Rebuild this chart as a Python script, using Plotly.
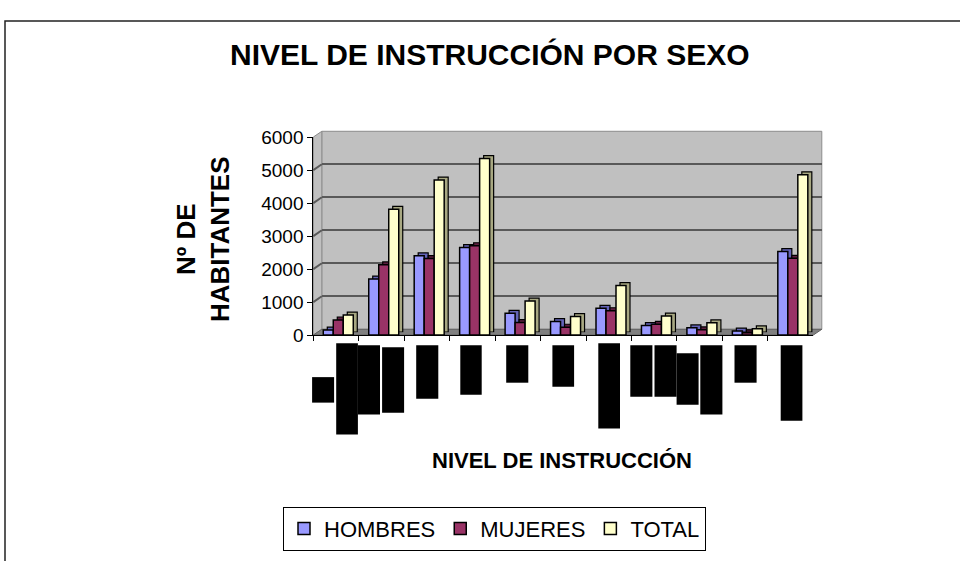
import plotly.graph_objects as go

# ---- data -------------------------------------------------------------
categorias = [
    "Sin nivel", "Educación inicial", "Primaria incompleta", "Primaria completa",
    "Secundaria incompleta", "Secundaria completa", "Sup. no univ. incompleta",
    "Sup. no univ. completa", "Sup. univ. incompleta", "Sup. univ. completa",
    "No especificado",
]
hombres = [150, 1700, 2400, 2650, 660, 410, 810, 290, 220, 120, 2530]
mujeres = [460, 2130, 2320, 2710, 380, 240, 740, 330, 160, 70, 2330]
total = [610, 3810, 4700, 5350, 1030, 560, 1500, 580, 370, 190, 4860]
y_ticks = [0, 1000, 2000, 3000, 4000, 5000, 6000]

# ---- geometry (pixels on a 960 x 561 page) ----------------------------
W, H = 960, 561
def px(x):
    return x / W
def py(y):
    return 1 - y / H

FX0, FX1 = 313.3, 813.3      # front x-axis span
FY0, FY1 = 337.7, 132.0      # front y for 0 and 6000
WALL_DX, WALL_DY = 8.5, -6.0  # depth of the chart box
BAR_DX, BAR_DY = 4.0, -3.0    # depth of each column

front_x = [px(FX0), px(FX1)]
front_y = [py(FY0), py(FY1)]
wall_x = [px(FX0 + WALL_DX), px(FX1 + WALL_DX)]
wall_y = [py(FY0 + WALL_DY), py(FY1 + WALL_DY)]
depth_x = [px(FX0 + BAR_DX), px(FX1 + BAR_DX)]
depth_y = [py(FY0 + BAR_DY), py(FY1 + BAR_DY)]

FONT = "Liberation Sans, Arial, sans-serif"
series = [
    ("HOMBRES", hombres, "#9999FF", "#6363b8", -0.2805),
    ("MUJERES", mujeres, "#993366", "#5e1d3e", -0.0605),
    ("TOTAL", total, "#FFFFCC", "#a8a882", 0.1595),
]
BAR_W = 0.22

fig = go.Figure()

# wall subplot only carries the grid lines
fig.add_trace(go.Scatter(x=[], y=[], xaxis="x", yaxis="y", showlegend=False,
                         hoverinfo="skip"))

# extruded sides of the columns
for name, vals, col, dark, off in series:
    fig.add_trace(go.Bar(
        x=categorias, y=vals, xaxis="x2", yaxis="y2", width=BAR_W, offset=off,
        marker=dict(color=dark, line=dict(color="black", width=1.2)),
        showlegend=False, hoverinfo="skip",
    ))

# front faces of the columns
for name, vals, col, dark, off in series:
    fig.add_trace(go.Bar(
        x=categorias, y=vals, name=name, xaxis="x3", yaxis="y3",
        width=BAR_W, offset=off,
        marker=dict(color=col, line=dict(color="black", width=1.5)),
    ))

shapes = []
# outer chart frame
shapes.append(dict(type="rect", xref="paper", yref="paper",
                   x0=px(5), x1=px(975), y0=py(11.5), y1=py(575),
                   line=dict(color="#222222", width=1.5), layer="below"))
# back wall
shapes.append(dict(type="rect", xref="paper", yref="paper",
                   x0=wall_x[0], x1=wall_x[1], y0=wall_y[0], y1=wall_y[1],
                   fillcolor="#C0C0C0", line=dict(color="#8c8c8c", width=1),
                   layer="below"))
# side wall
shapes.append(dict(type="path", xref="paper", yref="paper",
                   path=(f"M{front_x[0]},{front_y[0]} L{front_x[0]},{front_y[1]} "
                         f"L{wall_x[0]},{wall_y[1]} L{wall_x[0]},{wall_y[0]} Z"),
                   fillcolor="#C0C0C0", line=dict(color="#8c8c8c", width=1),
                   layer="below"))
# floor
shapes.append(dict(type="path", xref="paper", yref="paper",
                   path=(f"M{front_x[0]},{front_y[0]} L{front_x[1]},{front_y[0]} "
                         f"L{wall_x[1]},{wall_y[0]} L{wall_x[0]},{wall_y[0]} Z"),
                   fillcolor="#808080", line=dict(color="#606060", width=1),
                   layer="below"))
# grid lines running across the side wall
for v in y_ticks[1:-1]:
    f = v / y_ticks[-1]
    ya = front_y[0] + f * (front_y[1] - front_y[0])
    yb = wall_y[0] + f * (wall_y[1] - wall_y[0])
    shapes.append(dict(type="line", xref="paper", yref="paper",
                       x0=front_x[0], x1=wall_x[0], y0=ya, y1=yb,
                       line=dict(color="#595959", width=2), layer="below"))

# category labels (rendered as solid blocks)
label_blocks = [
    (312.1, 334.1, 381.4, 407.9), (336.2, 357.9, 346.2, 441.0),
    (357.9, 380.0, 348.3, 420.3), (382.1, 404.1, 350.3, 418.3),
    (416.2, 438.3, 348.3, 403.8), (460.3, 481.7, 348.3, 399.7),
    (506.2, 528.3, 348.3, 387.2), (552.4, 574.1, 348.3, 391.4),
    (598.3, 620.0, 346.2, 434.8), (630.3, 652.4, 348.3, 401.7),
    (654.5, 676.6, 348.3, 401.7), (676.6, 698.6, 356.6, 410.0),
    (700.3, 722.4, 348.3, 420.3), (734.5, 756.6, 348.3, 387.2),
    (780.7, 802.4, 348.3, 426.6),
]
for x0, x1, y0, y1 in label_blocks:
    shapes.append(dict(type="rect", xref="paper", yref="paper",
                       x0=px(x0), x1=px(x1), y0=py(y1), y1=py(y0),
                       fillcolor="black", line=dict(width=0), layer="above"))

annotations = [
    dict(text="<b>NIVEL DE INSTRUCCIÓN POR SEXO</b>", xref="paper", yref="paper",
         x=px(490), y=py(46), xanchor="center", yanchor="middle", showarrow=False,
         font=dict(family=FONT, size=30, color="black")),
    dict(text="<b>Nº DE<br>HABITANTES</b>", xref="paper", yref="paper",
         x=px(203), y=py(238), xanchor="center", yanchor="middle", showarrow=False,
         textangle=-90, font=dict(family=FONT, size=26, color="black")),
    dict(text="<b>NIVEL DE INSTRUCCIÓN</b>", xref="paper", yref="paper",
         x=px(562), y=py(468), xanchor="center", yanchor="middle", showarrow=False,
         font=dict(family=FONT, size=22, color="black")),
]

fig.update_layout(
    width=W, height=561,
    margin=dict(l=0, r=0, t=0, b=0, pad=0),
    paper_bgcolor="white", plot_bgcolor="rgba(0,0,0,0)",
    barmode="overlay",
    font=dict(family=FONT, color="black"),
    showlegend=True,
    legend=dict(orientation="h", x=px(283), y=py(516), xanchor="left", yanchor="top",
                bordercolor="black", borderwidth=1, bgcolor="white",
                font=dict(family=FONT, size=22, color="black"),
                itemwidth=30, traceorder="normal"),
    xaxis=dict(domain=wall_x, range=[-0.5, 10.5], visible=False, anchor="y"),
    yaxis=dict(domain=wall_y, range=[0, 6000], tickvals=y_ticks, showgrid=True,
               gridcolor="#595959", gridwidth=2, zeroline=False,
               showticklabels=False, ticks="", showline=False, anchor="x"),
    xaxis2=dict(domain=depth_x, range=[-0.5, 10.5], visible=False, anchor="y2"),
    yaxis2=dict(domain=depth_y, range=[0, 6000], visible=False, anchor="x2"),
    xaxis3=dict(domain=front_x, range=[-0.5, 10.5], anchor="y3",
                showline=True, linecolor="black", linewidth=1,
                ticks="outside", ticklen=5, tickcolor="black", tickson="boundaries",
                showticklabels=False, showgrid=False, zeroline=False),
    yaxis3=dict(domain=front_y, range=[0, 6000], tickvals=y_ticks, anchor="x3",
                showline=True, linecolor="black", linewidth=1,
                ticks="outside", ticklen=5, tickcolor="black",
                showgrid=False, zeroline=False,
                tickfont=dict(family=FONT, size=19, color="black")),
    shapes=shapes,
    annotations=annotations,
)

fig.write_html("out.html")
